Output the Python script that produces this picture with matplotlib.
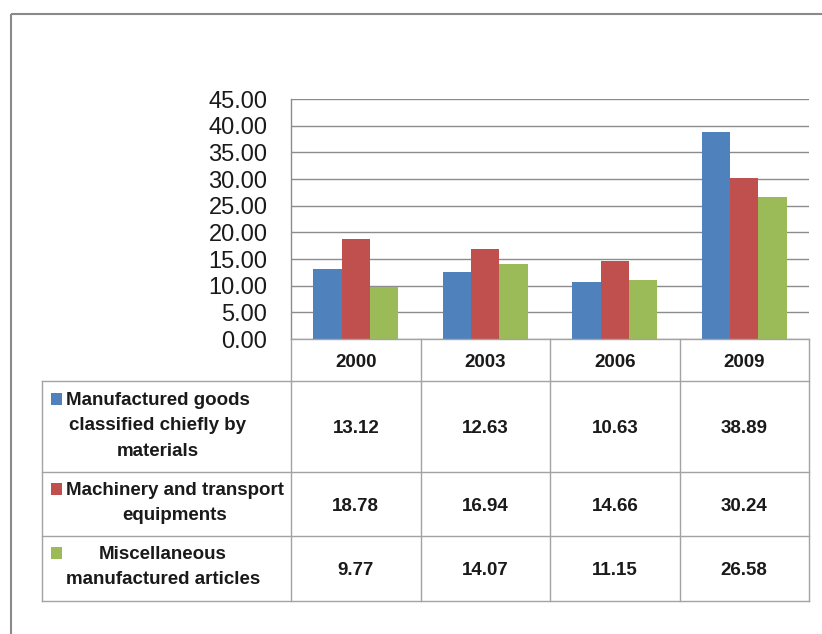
import matplotlib
matplotlib.use('Agg')
import matplotlib.pyplot as plt
from matplotlib.patches import Rectangle
import numpy as np

# ---------------- data ----------------
years = ['2000', '2003', '2006', '2009']
series_labels = [['Manufactured goods', 'classified chiefly by', 'materials'],
                 ['Machinery and transport', 'equipments'],
                 ['Miscellaneous', 'manufactured articles']]
manufactured_goods = [13.12, 12.63, 10.63, 38.89]
machinery_transport = [18.78, 16.94, 14.66, 30.24]
misc_articles = [9.77, 14.07, 11.15, 26.58]
y_ticks = [0, 5, 10, 15, 20, 25, 30, 35, 40, 45]
colors = ['#4F81BD', '#C0504D', '#9BBB59']

series_values = [manufactured_goods, machinery_transport, misc_articles]

# ---------------- layout ----------------
W, H = 822, 634
fig = plt.figure(figsize=(W / 100, H / 100), dpi=100)
fig.patch.set_facecolor('white')

L, R, T, B = 291, 809, 99, 339
ax = fig.add_axes([L / W, 1 - B / H, (R - L) / W, (B - T) / H])

FONT = 'Liberation Sans'
TXT = '#1A1A1A'
GRID = '#8C8C8C'
TLINE = '#A3A3A3'

x = np.arange(len(years))
bw = 0.22
for i, (vals, c) in enumerate(zip(series_values, colors)):
    ax.bar(x + (i - 1) * bw, vals, width=bw, color=c, linewidth=0, zorder=3)

ax.set_xlim(-0.5, len(years) - 0.5)
ax.set_ylim(0, 45)
ax.set_yticks(y_ticks)
ax.set_yticklabels([f'{v:.2f}' for v in y_ticks], fontsize=17, family=FONT, color=TXT)
ax.set_xticks([])
ax.tick_params(axis='y', length=0, pad=17)
ax.grid(axis='y', color=GRID, linewidth=1.0, zorder=0)
ax.set_axisbelow(True)
for s in ['top', 'right', 'bottom']:
    ax.spines[s].set_visible(False)
ax.spines['left'].set_color(GRID)
ax.spines['left'].set_linewidth(1.0)

# ---------------- overlay for frame ----------------
ov = fig.add_axes([0, 0, 1, 1], zorder=-1)
ov.set_xlim(0, W)
ov.set_ylim(H, 0)
ov.axis('off')
ov.plot([11, 11], [14, H], color='#8A8A8A', lw=1.5, solid_capstyle='butt')
ov.plot([11, W], [14, 14], color='#8A8A8A', lw=1.5, solid_capstyle='butt')

# ---------------- data table ----------------
col_edges = [L + (R - L) * k / len(years) for k in range(len(years) + 1)]
row_edges = [339, 381, 472, 536, 601]
label_left = 42

tb = fig.add_axes([0, 0, 1, 1], zorder=5)
tb.set_xlim(0, W)
tb.set_ylim(H, 0)
tb.axis('off')
tb.patch.set_alpha(0)

tb.plot([L, R], [row_edges[0], row_edges[0]], color=TLINE, lw=1.0)
for yy in row_edges[1:]:
    tb.plot([label_left, R], [yy, yy], color=TLINE, lw=1.0)
tb.plot([label_left, label_left], [row_edges[1], row_edges[-1]], color=TLINE, lw=1.0)
for xx in col_edges:
    tb.plot([xx, xx], [row_edges[0], row_edges[-1]], color=TLINE, lw=1.0)

tkw = dict(fontsize=13.5, fontweight='bold', family=FONT, color=TXT)
half_cap = 6.7  # half the digit height, so digits sit centred in each cell
col_centers = [(col_edges[k] + col_edges[k + 1]) / 2 for k in range(len(years))]
for cx, yr in zip(col_centers, years):
    tb.text(cx, (row_edges[0] + row_edges[1]) / 2 + half_cap, yr,
            ha='center', va='baseline', **tkw)

for r, vals in enumerate(series_values):
    cy = (row_edges[r + 1] + row_edges[r + 2]) / 2 + half_cap
    for cx, v in zip(col_centers, vals):
        tb.text(cx, cy, f'{v:.2f}', ha='center', va='baseline', **tkw)

# row labels with legend keys: lines centred within the block that starts at the key
renderer = fig.canvas.get_renderer()
first_baselines = [405, 495, 559]
line_step = 25.5
text_left = 66
for lines, c, by in zip(series_labels, colors, first_baselines):
    tb.add_patch(Rectangle((50.5, by - 12), 11, 12, facecolor=c, edgecolor='none'))
    widths = []
    for ln in lines:
        t = tb.text(0, 0, ln, **tkw)
        widths.append(t.get_window_extent(renderer).width)
        t.remove()
    center = text_left + max(widths) / 2
    for k, ln in enumerate(lines):
        tb.text(center, by + k * line_step, ln, ha='center', va='baseline', **tkw)

fig.savefig('out.png', dpi=100, facecolor='white')
